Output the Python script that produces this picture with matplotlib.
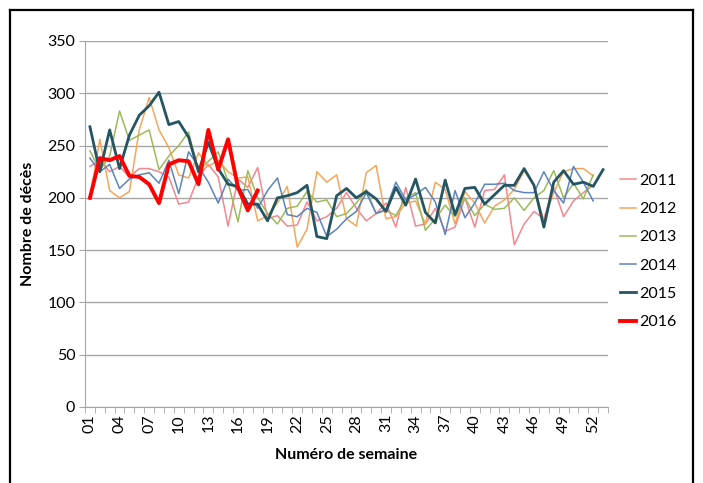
import matplotlib.pyplot as plt
from matplotlib.lines import Line2D
import numpy as np

plt.rcParams['font.family'] = ['Lato', 'DejaVu Sans']

# Données hebdomadaires (nombre de décès)
semaines = list(range(1, 54))
tick_labels = ['%02d' % s for s in range(1, 53, 3)]

d2011 = [230, 236, 225, 230, 220, 228, 228, 225, 220, 194, 196, 220, 232, 220, 173, 218, 210, 229,
         180, 183, 173, 174, 196, 178, 182, 190, 205, 190, 178, 185, 195, 172, 210, 173, 175, 190,
         168, 172, 200, 172, 207, 208, 222, 155, 175, 187, 180, 210, 182, 197, 205, 212]
d2012 = [200, 256, 207, 200, 206, 265, 296, 265, 248, 222, 219, 243, 230, 236, 225, 219, 220, 178,
         183, 195, 211, 153, 170, 225, 215, 222, 180, 173, 224, 231, 180, 182, 195, 197, 175, 215,
         208, 175, 206, 195, 176, 192, 198, 208, 226, 212, 178, 205, 225, 228, 228, 221]
d2013 = [245, 226, 240, 283, 255, 260, 265, 227, 240, 250, 263, 225, 235, 244, 215, 177, 226, 200,
         185, 175, 190, 192, 206, 196, 198, 182, 185, 195, 208, 185, 188, 183, 200, 205, 169, 180,
         193, 182, 200, 183, 194, 189, 190, 200, 188, 200, 207, 226, 200, 214, 199, 222]
d2014 = [238, 225, 232, 209, 218, 222, 224, 214, 236, 204, 244, 230, 215, 195, 218, 207, 208, 190,
         207, 219, 184, 182, 190, 186, 163, 170, 180, 187, 205, 185, 189, 215, 198, 203, 210, 196,
         165, 207, 181, 195, 213, 213, 214, 207, 205, 205, 225, 207, 195, 230, 215, 197]
d2015 = [268, 225, 265, 228, 260, 279, 288, 301, 270, 273, 258, 225, 253, 228, 213, 211, 194, 194,
         178, 200, 202, 205, 212, 163, 161, 202, 209, 200, 206, 199, 187, 210, 193, 218, 186, 176,
         217, 184, 209, 210, 194, 203, 212, 212, 228, 212, 172, 215, 226, 213, 215, 211, 227]
d2016 = [200, 238, 236, 240, 221, 220, 213, 195, 232, 236, 235, 213, 265, 227, 256, 210, 188, 207]

series = [
    ('2011', d2011, '#F4878F', 1.1),
    ('2012', d2012, '#F5A65B', 1.1),
    ('2013', d2013, '#9BBB59', 1.1),
    ('2014', d2014, '#5B84BF', 1.1),
    ('2015', d2015, '#245563', 2.0),
    ('2016', d2016, '#FF0000', 2.8),
]

fig = plt.figure(figsize=(7.03, 4.83), dpi=100)
ax = fig.add_axes([85 / 703, 76 / 483, 523 / 703, 366 / 483])

for nom, vals, col, lw in series:
    ax.plot(semaines[:len(vals)], vals, color=col, linewidth=lw, label=nom)

ax.set_xlim(0.5, 53.5)
ax.set_ylim(0, 350)
ax.set_yticks(np.arange(0, 351, 50))
ax.yaxis.grid(True, color='#A6A6A6', linewidth=1.0)
ax.set_axisbelow(True)

ax.set_xticks(range(1, 53, 3))
ax.set_xticklabels(tick_labels, rotation=90)
ax.set_xticks(np.arange(0.5, 54, 1), minor=True)
ax.tick_params(axis='x', which='major', length=0, pad=5, labelsize=11.5)
ax.tick_params(axis='x', which='minor', length=4, color='#A6A6A6', direction='out')
ax.tick_params(axis='y', length=4, color='#A6A6A6', labelsize=11.5, pad=3)

for s in ['top', 'right']:
    ax.spines[s].set_visible(False)
ax.spines['left'].set_color('#A6A6A6')
ax.spines['bottom'].set_color('#A6A6A6')

ax.set_ylabel('Nombre de décès', fontsize=11.5, fontweight='bold', labelpad=9)
ax.set_xlabel('Numéro de semaine', fontsize=11.5, fontweight='bold', labelpad=11)

ax.legend(loc='center left', bbox_to_anchor=(0.995, 0.425), frameon=False,
          fontsize=11.5, handlelength=1.0, handletextpad=0.2, labelspacing=0.88)

# Cadre noir autour de l'image
for xs, ys in [([10 / 703, 10 / 703], [0, 1 - 10 / 483]),
               ([10 / 703, 693 / 703], [1 - 10 / 483, 1 - 10 / 483]),
               ([693 / 703, 693 / 703], [0, 1 - 10 / 483])]:
    fig.add_artist(Line2D(xs, ys, color='black', linewidth=1.6, transform=fig.transFigure))

fig.savefig('out.png', dpi=100)
